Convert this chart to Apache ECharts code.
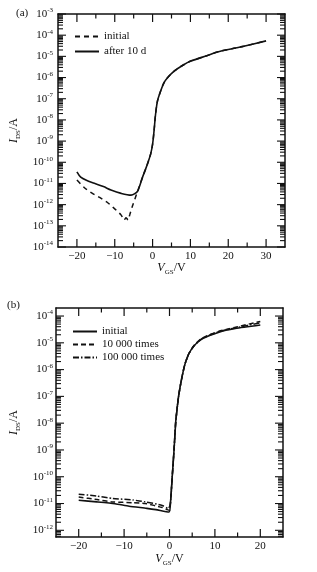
<!DOCTYPE html>
<html><head><meta charset="utf-8">
<script src="https://cdn.jsdelivr.net/npm/echarts@6/dist/echarts.min.js"></script>
<style>html,body{margin:0;padding:0;background:#fff}#c{width:317px;height:572px}</style>
</head><body><div id="c"></div>
<script>
// ---------- Panel (a): I_DS (A) vs V_GS (V) ----------
const vgsA_initial = [-20, -18, -16, -14, -12, -10, -8.3, -7.5, -7.0, -6.5, -6.0, -5.3, -4.6, -4.0, -3.9, -2.6, -1.8, -1.2, -0.5, 0, 0.4, 0.75, 1.3, 2.2, 3.0, 4.0, 5.7, 8, 10.1, 14.5, 17.1, 21.5, 24.1, 30];
const idsA_initial = [1.45e-11, 6.3e-12, 3.5e-12, 2.2e-12, 1.3e-12, 6.3e-13, 3.2e-13, 1.9e-13, 2.4e-13, 1.9e-13, 3.5e-13, 8.9e-13, 2.0e-12, 4.2e-12, 4.5e-12, 2.1e-11, 5.0e-11, 1.0e-10, 2.5e-10, 7.1e-10, 3.2e-9, 1.6e-8, 7.9e-8, 2.5e-7, 5.6e-7, 1.0e-6, 2.0e-6, 3.8e-6, 6.0e-6, 1.1e-5, 1.6e-5, 2.4e-5, 3.0e-5, 5.4e-5];
const vgsA_after = [-20, -19, -17.5, -15.4, -13, -11, -8.3, -5.7, -4.8, -3.9, -2.6, -1.8, -1.2, -0.5, 0, 0.4, 0.75, 1.3, 2.2, 3.0, 4.0, 5.7, 8, 10.1, 14.5, 17.1, 21.5, 24.1, 30];
const idsA_after = [3.55e-11, 2.0e-11, 1.41e-11, 1.02e-11, 7.1e-12, 4.9e-12, 3.4e-12, 2.8e-12, 3.2e-12, 4.5e-12, 2.1e-11, 5.0e-11, 1.0e-10, 2.5e-10, 7.1e-10, 3.2e-9, 1.6e-8, 7.9e-8, 2.5e-7, 5.6e-7, 1.0e-6, 2.0e-6, 3.8e-6, 6.0e-6, 1.1e-5, 1.6e-5, 2.4e-5, 3.0e-5, 5.4e-5];

// ---------- Panel (b) ----------
const vgsB_initial = [-20, -16, -12, -8.9, -5, -3, -0.1, 0.2, 0.6, 1.0, 1.35, 1.65, 2.0, 2.5, 3.1, 3.5, 4.3, 5.4, 7.2, 10.9, 14.5, 20];
const idsB_initial = [1.32e-11, 1.15e-11, 9.8e-12, 7.9e-12, 6.6e-12, 5.9e-12, 4.8e-12, 1.0e-11, 1.0e-10, 1.0e-9, 1.0e-8, 3.2e-8, 1.0e-7, 3.2e-7, 1.0e-6, 1.8e-6, 4.0e-6, 7.6e-6, 1.4e-5, 2.5e-5, 3.4e-5, 4.6e-5];
const vgsB_10k = [-20, -16, -12.5, -8, -5.3, -1.6, -0.5, 0, 0.2, 0.6, 1.0, 1.35, 1.65, 2.0, 2.5, 3.1, 3.5, 4.3, 5.4, 7.2, 10.9, 14.5, 20];
const idsB_10k = [1.74e-11, 1.41e-11, 1.15e-11, 1.07e-11, 1.0e-11, 7.1e-12, 5.9e-12, 5.6e-12, 1.0e-11, 1.0e-10, 1.0e-9, 1.0e-8, 3.2e-8, 1.0e-7, 3.2e-7, 1.0e-6, 1.8e-6, 4.1e-6, 7.9e-6, 1.5e-5, 2.7e-5, 3.8e-5, 6.3e-5];
const vgsB_100k = [-20, -16, -12.5, -8, -5.3, -1.6, -0.3, 0.2, 0.6, 1.0, 1.35, 1.65, 2.0, 2.5, 3.1, 3.5, 4.3, 5.4, 7.2, 10.9, 14.5, 20];
const idsB_100k = [2.24e-11, 1.9e-11, 1.55e-11, 1.35e-11, 1.15e-11, 8.5e-12, 6.5e-12, 1.0e-11, 1.0e-10, 1.0e-9, 1.0e-8, 3.2e-8, 1.0e-7, 3.2e-7, 1.0e-6, 1.8e-6, 4.0e-6, 7.8e-6, 1.45e-5, 2.6e-5, 3.6e-5, 5.6e-5];

// ---------- Ticks ----------
const xTicksA = [-20, -10, 0, 10, 20, 30];
const xMinorA = [-15, -5, 5, 15, 25];
const xTicksB = [-20, -10, 0, 10, 20];
const xMinorB = [-15, -5, 5, 15];
const yDecadesA = [-14, -13, -12, -11, -10, -9, -8, -7, -6, -5, -4, -3];
const yDecadesB = [-12, -11, -10, -9, -8, -7, -6, -5, -4];

const FONT = "'Liberation Serif','DejaVu Serif',serif";
const BLACK = '#111';
const MAJOR_LEN = 8, MINOR_LEN = 4.5;

function minorLog(lo, hi) {
  const out = [];
  for (let n = Math.floor(lo) - 1; n <= Math.ceil(hi); n++)
    for (let k = 2; k <= 9; k++) {
      const v = n + Math.log10(k);
      if (v > lo + 0.01 && v < hi - 0.01) out.push(v);
    }
  return out;
}
function pairs(xs, ys) { return xs.map((x, i) => [x, Math.log10(ys[i])]); }
const fmtX = v => (v < 0 ? '\u2212' + Math.abs(v) : String(v));
const fmtY = v => '{b|10}{s|' + Math.round(v) + '}';
const yRich = {
  b: { fontFamily: FONT, fontSize: 11, color: BLACK, lineHeight: 14 },
  s: { fontFamily: FONT, fontSize: 7, color: BLACK, verticalAlign: 'top', lineHeight: 8 }
};
const nameRich = {
  i: { fontFamily: FONT, fontSize: 12, fontStyle: 'italic', color: BLACK, lineHeight: 16 },
  sub: { fontFamily: FONT, fontSize: 7, color: BLACK, verticalAlign: 'bottom', lineHeight: 8 },
  n: { fontFamily: FONT, fontSize: 12, color: BLACK, lineHeight: 16 }
};
const frame = { show: true, onZero: false, lineStyle: { color: BLACK, width: 1.5 } };

function xAxes(grid, min, max, majors, nameGap) {
  const base = { type: 'value', gridIndex: grid, min, max, splitLine: { show: false }, axisTick: { show: false }, axisLine: frame };
  return [
    Object.assign({}, base, {
      position: 'bottom',
      axisLabel: { customValues: majors, formatter: fmtX, fontFamily: FONT, fontSize: 11, color: BLACK, margin: 4 },
      name: '{i|V}{sub|GS}{n|/V}', nameLocation: 'middle', nameGap: nameGap, nameMoveOverlap: false,
      nameTextStyle: { rich: nameRich }
    }),
    Object.assign({}, base, { position: 'top', axisLabel: { show: false } })
  ];
}
function yAxes(grid, min, max, decades, labelMargin, nameGap) {
  const base = { type: 'value', gridIndex: grid, min, max, splitLine: { show: false }, axisTick: { show: false }, axisLine: frame };
  return [
    Object.assign({}, base, {
      position: 'left',
      axisLabel: { customValues: decades, formatter: fmtY, rich: yRich, margin: labelMargin },
      name: '{i|I}{sub|DS}{n|/A}', nameLocation: 'middle', nameRotate: 90, nameGap: nameGap, nameMoveOverlap: false,
      nameTextStyle: { rich: nameRich }
    }),
    Object.assign({}, base, { position: 'right', axisLabel: { show: false } })
  ];
}

// Inward tick marks on all four sides, placed through the axes' own scales.
function xTickSeries(axisIdx, yr, values, len) {
  return { type: 'custom', xAxisIndex: axisIdx, yAxisIndex: axisIdx, silent: true, z: 5,
    data: values.map(v => [v, yr[0]]),
    renderItem: (params, api) => {
      const v = api.value(0);
      const b = api.coord([v, yr[0]]), t = api.coord([v, yr[1]]);
      return { type: 'group', children: [
        { type: 'line', shape: { x1: b[0], y1: b[1], x2: b[0], y2: b[1] - len }, style: { stroke: BLACK, lineWidth: 1.2 } },
        { type: 'line', shape: { x1: t[0], y1: t[1], x2: t[0], y2: t[1] + len }, style: { stroke: BLACK, lineWidth: 1.2 } }
      ] };
    } };
}
function yTickSeries(axisIdx, xr, values, len) {
  return { type: 'custom', xAxisIndex: axisIdx, yAxisIndex: axisIdx, silent: true, z: 5,
    data: values.map(v => [xr[0], v]),
    renderItem: (params, api) => {
      const v = api.value(1);
      const l = api.coord([xr[0], v]), r = api.coord([xr[1], v]);
      return { type: 'group', children: [
        { type: 'line', shape: { x1: l[0], y1: l[1], x2: l[0] + len, y2: l[1] }, style: { stroke: BLACK, lineWidth: 1.1 } },
        { type: 'line', shape: { x1: r[0], y1: r[1], x2: r[0] - len, y2: r[1] }, style: { stroke: BLACK, lineWidth: 1.1 } }
      ] };
    } };
}

const rangeXA = [-25, 35], rangeYA = [-14, -3];
const rangeXB = [-25, 25], rangeYB = [-12.25, -3.7];

const legendNames = { aInit: 'initial', aAfter: 'after 10 d', bInit: 'initial', b10k: '10 000 times', b100k: '100 000 times' };
const legendBase = {
  orient: 'vertical', itemWidth: 24, itemHeight: 10, padding: 0,
  formatter: n => legendNames[n],
  itemStyle: { opacity: 0 },
  textStyle: { fontFamily: FONT, fontSize: 11, color: BLACK }
};

const option = {
  animation: false,
  backgroundColor: '#fff',
  grid: [
    { left: 56, top: 14, width: 229, height: 233 },
    { left: 53, top: 308, width: 230, height: 229 }
  ],
  xAxis: xAxes(0, rangeXA[0], rangeXA[1], xTicksA, 13).concat(xAxes(1, rangeXB[0], rangeXB[1], xTicksB, 14)),
  yAxis: yAxes(0, rangeYA[0], rangeYA[1], yDecadesA, 5, 36).concat(yAxes(1, rangeYB[0], rangeYB[1], yDecadesB, 3, 34)),
  legend: [
    Object.assign({}, legendBase, { data: ['aInit', 'aAfter'], left: 74, top: 31, itemGap: 4 }),
    Object.assign({}, legendBase, { data: ['bInit', 'b10k', 'b100k'], left: 72, top: 326, itemGap: 2 })
  ],
  graphic: [
    { type: 'text', left: 16, top: 8, style: { text: '(a)', fontFamily: FONT, fontSize: 11, fill: BLACK } },
    { type: 'text', left: 7, top: 300, style: { text: '(b)', fontFamily: FONT, fontSize: 11, fill: BLACK } }
  ],
  series: [
    { name: 'aInit', type: 'line', xAxisIndex: 0, yAxisIndex: 0, symbol: 'none', smooth: 0.3, data: pairs(vgsA_initial, idsA_initial),
      lineStyle: { color: BLACK, width: 1.5, type: [5, 4] }, itemStyle: { color: BLACK } },
    { name: 'aAfter', type: 'line', xAxisIndex: 0, yAxisIndex: 0, symbol: 'none', smooth: 0.3, data: pairs(vgsA_after, idsA_after),
      lineStyle: { color: BLACK, width: 1.6, type: 'solid' }, itemStyle: { color: BLACK } },
    { name: 'b100k', type: 'line', xAxisIndex: 2, yAxisIndex: 2, symbol: 'none', smooth: 0.2, data: pairs(vgsB_100k, idsB_100k),
      lineStyle: { color: BLACK, width: 1.5, type: [6, 2, 1.5, 2] }, itemStyle: { color: BLACK } },
    { name: 'b10k', type: 'line', xAxisIndex: 2, yAxisIndex: 2, symbol: 'none', smooth: 0.2, data: pairs(vgsB_10k, idsB_10k),
      lineStyle: { color: BLACK, width: 1.5, type: [5, 3] }, itemStyle: { color: BLACK } },
    { name: 'bInit', type: 'line', xAxisIndex: 2, yAxisIndex: 2, symbol: 'none', smooth: 0.2, data: pairs(vgsB_initial, idsB_initial),
      lineStyle: { color: BLACK, width: 1.6, type: 'solid' }, itemStyle: { color: BLACK } },
    xTickSeries(0, rangeYA, xTicksA, MAJOR_LEN),
    xTickSeries(0, rangeYA, xMinorA, MINOR_LEN),
    yTickSeries(0, rangeXA, yDecadesA, MAJOR_LEN),
    yTickSeries(0, rangeXA, minorLog(rangeYA[0], rangeYA[1]), MINOR_LEN + 0.5),
    xTickSeries(2, rangeYB, xTicksB, MAJOR_LEN),
    xTickSeries(2, rangeYB, xMinorB, MINOR_LEN),
    yTickSeries(2, rangeXB, yDecadesB, MAJOR_LEN),
    yTickSeries(2, rangeXB, minorLog(rangeYB[0], rangeYB[1]), MINOR_LEN + 0.5)
  ]
};
const chart = echarts.init(document.getElementById('c'), null, { renderer: 'canvas' });
chart.setOption(option);
</script></body></html>
